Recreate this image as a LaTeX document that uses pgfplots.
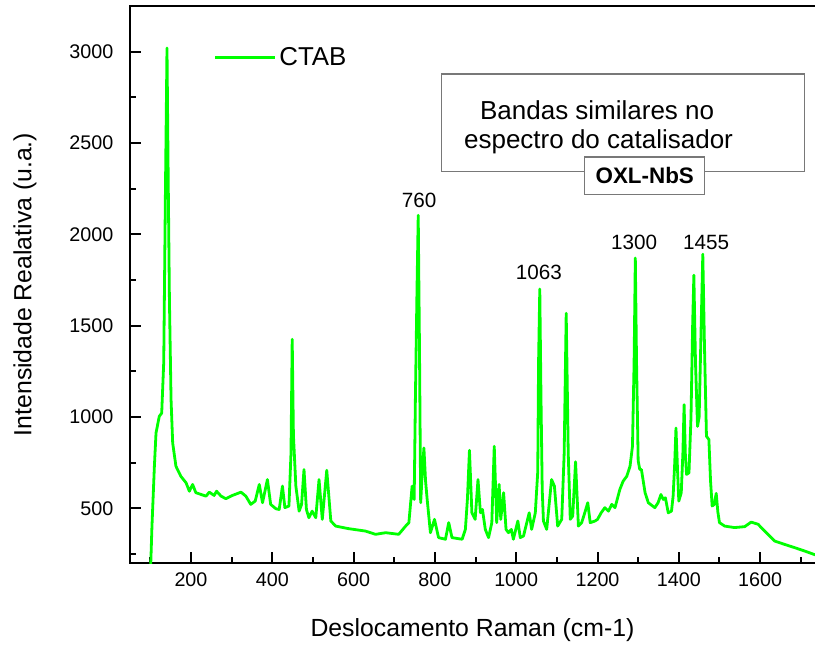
\documentclass[border=0pt]{standalone}
\usepackage{fontspec}
\setmainfont{Liberation Sans}
\usepackage{pgfplots}
\pgfplotsset{compat=1.18}
\usetikzlibrary{calc}
\definecolor{lgreen}{RGB}{0,255,0}
\definecolor{boxgray}{RGB}{120,120,120}
\begin{document}
\begin{tikzpicture}
\begin{axis}[
 name=ax,
 width=517.75pt, height=417.75pt, scale only axis,
 xmin=50, xmax=1748.1, ymin=200, ymax=3250,
 xtick={200,400,...,1600}, ytick={500,1000,...,3000},
 minor xtick={100,300,...,1700}, minor ytick={250,750,...,3250},
 xtick pos=left, ytick pos=left,
 xtick align=inside, ytick align=inside,
 major tick length=8pt, minor tick length=4.5pt,
 every tick/.append style={black, line width=1.5pt},
 axis line style={line width=2pt},
 scaled ticks=false,
 /pgf/number format/1000 sep={},
 /pgf/number format/assume math mode=true,
 tick label style={font=\fontsize{14.8}{17}\selectfont},
 yticklabel style={xshift=-9pt},
 xticklabel style={yshift=-4pt},
 label style={font=\fontsize{18.6}{22}\selectfont},
 xlabel={Deslocamento Raman (cm-1)},
 ylabel={Intensidade Realativa (u.a.)},
 x label style={at={(axis description cs:0.4961,-0.1203)}, anchor=center},
 y label style={at={(axis description cs:-0.1521,0.5)}, anchor=center},
 legend style={draw=none, fill=none, at={(axis description cs:0.1211,0.908)}, anchor=west,
   font=\fontsize{19.4}{22}\selectfont, inner sep=0pt},
 legend image code/.code={\draw[#1] (0pt,0pt) -- (45pt,0pt);},
]
\addplot[lgreen, line width=2.1pt, line join=round] table {
100 120
104 400
110 730
114 912
122 1003
128 1021
133 1300
137 2200
141 3020
144 2300
147 1640
151 1094
155 857
163 730
175 675
188 639
196 593
204 630
212 585
237 566
245 588
257 570
263 593
274 566
286 552
302 570
323 588
335 566
347 521
358 539
368 630
376 530
388 657
396 521
409 497
417 493
425 621
431 503
441 512
446 800
449 1425
452 900
458 621
466 484
472 520
478 712
484 493
490 448
498 484
507 448
515 657
523 439
534 708
544 430
556 402
588 388
629 375
654 357
679 366
711 357
728 402
736 421
744 621
749 548
752 1094
756 1700
759 2104
762 1400
765 530
769 700
773 830
777 650
781 548
789 366
799 439
809 339
826 330
834 421
842 339
867 330
875 384
880 550
885 817
891 475
899 439
906 657
912 475
917 493
924 384
932 339
940 420
946 839
952 421
958 630
962 439
969 585
975 384
981 366
988 384
993 330
1004 430
1010 339
1018 348
1032 475
1038 384
1047 475
1053 700
1055 1300
1058 1700
1061 1100
1064 600
1067 430
1075 384
1087 657
1094 621
1102 402
1112 439
1118 800
1123 1567
1128 800
1133 439
1139 457
1146 754
1153 402
1161 421
1168 470
1176 530
1182 421
1194 430
1200 439
1209 475
1218 503
1227 484
1235 521
1243 503
1255 603
1263 648
1272 675
1280 730
1286 839
1290 1300
1293 1870
1296 1300
1300 760
1304 712
1308 712
1317 585
1325 530
1341 503
1349 530
1356 575
1362 548
1367 557
1374 475
1382 484
1386 566
1390 750
1393 939
1397 700
1400 539
1406 585
1410 800
1413 1067
1416 800
1419 685
1425 694
1430 1000
1434 1500
1437 1776
1441 1300
1446 948
1450 1000
1455 1500
1459 1891
1463 1400
1468 894
1474 876
1478 650
1482 512
1487 520
1492 581
1496 480
1500 421
1513 402
1537 394
1562 399
1578 424
1595 412
1611 375
1636 320
1660 302
1685 284
1709 266
1735 245
1750 235
};
\addlegendentry{CTAB}
\node[font=\fontsize{15.5}{18}\selectfont] at (axis cs:761,2186) {760};
\node[font=\fontsize{15.5}{18}\selectfont] at (axis cs:1056,1793) {1063};
\node[font=\fontsize{15.5}{18}\selectfont] at (axis cs:1290,1957) {1300};
\node[font=\fontsize{15.5}{18}\selectfont] at (axis cs:1467,1957) {1455};
\draw[boxgray, line width=0.9pt, fill=white] (rel axis cs:0.4515,0.7025) rectangle (rel axis cs:0.9774,0.878);
\node[font=\fontsize{19.5}{23}\selectfont, align=center] at (rel axis cs:0.6767,0.813) {Bandas similares no};
\node[font=\fontsize{19.5}{23}\selectfont, align=center] at (rel axis cs:0.6787,0.756) {espectro do catalisador};
\draw[boxgray, line width=0.9pt, fill=white] (rel axis cs:0.6589,0.662) rectangle (rel axis cs:0.8325,0.729);
\node[font=\fontsize{16.8}{20}\selectfont\bfseries] at (rel axis cs:0.7457,0.6955) {OXL-NbS};
\end{axis}
\pgfresetboundingbox
\path[use as bounding box] ($(ax.south west)+(-97.5pt,-65.25pt)$) rectangle ($(ax.north east)+(-4pt,4.5pt)$);
\end{tikzpicture}
\end{document}
